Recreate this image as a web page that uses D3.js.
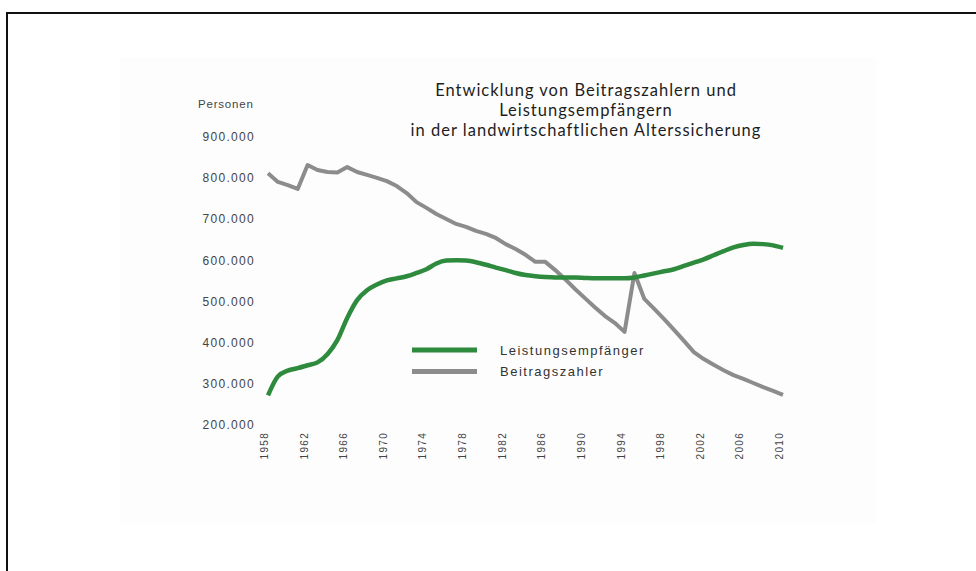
<!DOCTYPE html>
<html>
<head>
<meta charset="utf-8">
<script src="https://cdn.jsdelivr.net/npm/d3@7"></script>
<style>
  body { margin: 0; background: #fff; }
  svg { display: block; }
</style>
</head>
<body>
<div id="chart"></div>
<script>
// values
var years = [1958, 1959, 1960, 1961, 1962, 1963, 1964, 1965, 1966, 1967, 1968, 1969,
  1970, 1971, 1972, 1973, 1974, 1975, 1976, 1977, 1978, 1979, 1980, 1981, 1982, 1983,
  1984, 1985, 1986, 1987, 1988, 1989, 1990, 1991, 1992, 1993, 1994, 1995, 1996, 1997,
  1998, 1999, 2000, 2001, 2002, 2003, 2004, 2005, 2006, 2007, 2008, 2009, 2010];

var leistungsempfaenger = [272000, 318000, 332000, 338000, 345000, 352000, 372000, 406000, 460000, 503000, 527000, 541000,
  551000, 556000, 561000, 569000, 578000, 592000, 599000, 600000, 599000, 595000, 589000, 582000, 576000, 569000,
  564000, 561000, 559000, 558000, 558000, 558000, 557000, 556000, 556000, 556000, 556000, 558000, 563000, 568000,
  573000, 578000, 586000, 594000, 602000, 612000, 622000, 631000, 637000, 640000, 639000, 636000, 630000];

var beitragszahler = [811000, 790000, 782000, 773000, 831000, 819000, 814000, 813000, 826000, 814000, 807000, 800000,
  792000, 780000, 763000, 741000, 727000, 712000, 700000, 688000, 681000, 671000, 664000, 654000, 639000, 627000,
  613000, 596000, 596000, 576000, 554000, 530000, 508000, 486000, 465000, 448000, 426000, 569000, 506000, 482000,
  457000, 431000, 404000, 377000, 360000, 346000, 333000, 321000, 312000, 302000, 292000, 283000, 273000];

var yTicks = [200000, 300000, 400000, 500000, 600000, 700000, 800000, 900000];
var xTicks = [1958, 1962, 1966, 1970, 1974, 1978, 1982, 1986, 1990, 1994, 1998, 2002, 2006, 2010];

var titleLines = ["Entwicklung von Beitragszahlern und", "Leistungsempfängern", "in der landwirtschaftlichen Alterssicherung"];
var seriesNames = ["Leistungsempfänger", "Beitragszahler"];
var seriesColors = ["#2e8a3d", "#8c8c8c"];

var width = 976, height = 571;

var svg = d3.select("#chart").append("svg")
  .attr("width", width)
  .attr("height", height);

// very faint panel behind the chart + frame lines top/left
svg.append("rect")
  .attr("x", 120).attr("y", 58)
  .attr("width", 756).attr("height", 465)
  .style("fill", "#fdfdfd");

svg.append("line")
  .attr("x1", 6).attr("x2", width).attr("y1", 13).attr("y2", 13)
  .style("stroke", "#111").style("stroke-width", 2);
svg.append("line")
  .attr("x1", 7).attr("x2", 7).attr("y1", 12).attr("y2", height)
  .style("stroke", "#111").style("stroke-width", 2);

var de = d3.formatLocale({ decimal: ",", thousands: ".", grouping: [3], currency: ["", " €"] });
var fmt = de.format(",");

var x = d3.scaleLinear().domain([1958, 2010]).range([268, 783]);
var y = d3.scaleLinear().domain([200000, 900000]).range([425, 136.6]);

// y axis: labels only
var yAxis = svg.append("g")
  .attr("transform", "translate(255,0)")
  .call(d3.axisLeft(y).tickValues(yTicks).tickFormat(fmt).tickSize(0).tickPadding(0));
yAxis.select(".domain").remove();
yAxis.selectAll("text")
  .style("font-family", "Liberation Sans, Arial, sans-serif")
  .style("font-size", "12px")
  .style("letter-spacing", "1.3px")
  .style("fill", "#444");

svg.append("text")
  .attr("x", 198).attr("y", 108)
  .style("font-family", "Liberation Sans, Arial, sans-serif")
  .style("font-size", "11.5px")
  .style("letter-spacing", "0.8px")
  .style("fill", "#444")
  .text("Personen");

// x axis: rotated year labels
var xAxis = svg.append("g")
  .attr("transform", "translate(0,425)")
  .call(d3.axisBottom(x).tickValues(xTicks).tickFormat(d3.format("d")).tickSize(0));
xAxis.select(".domain").remove();
xAxis.selectAll("text")
  .attr("transform", "rotate(-90)")
  .attr("x", -7)
  .attr("y", -4)
  .attr("dy", "0.35em")
  .style("text-anchor", "end")
  .style("font-family", "Liberation Sans, Arial, sans-serif")
  .style("font-size", "10px")
  .style("letter-spacing", "1.3px")
  .style("fill", "#444");

// lines
var lineSmooth = d3.line()
  .x(function (d, i) { return x(years[i]); })
  .y(function (d) { return y(d); })
  .curve(d3.curveMonotoneX);

var lineStraight = d3.line()
  .x(function (d, i) { return x(years[i]); })
  .y(function (d) { return y(d); });

svg.append("path")
  .datum(beitragszahler)
  .attr("d", lineStraight)
  .style("fill", "none")
  .style("stroke", seriesColors[1])
  .style("stroke-width", 4)
  .style("stroke-linejoin", "round");

svg.append("path")
  .datum(leistungsempfaenger)
  .attr("d", lineSmooth)
  .style("fill", "none")
  .style("stroke", seriesColors[0])
  .style("stroke-width", 4.5)
  .style("stroke-linejoin", "round");

// legend
var legend = svg.append("g");
seriesNames.forEach(function (name, i) {
  var ly = 350 + i * 21.5;
  legend.append("line")
    .attr("x1", 412).attr("x2", 477)
    .attr("y1", ly).attr("y2", ly)
    .style("stroke", seriesColors[i])
    .style("stroke-width", 5);
  legend.append("text")
    .attr("x", 500).attr("y", ly)
    .attr("dy", "0.35em")
    .style("font-family", "Liberation Sans, Arial, sans-serif")
    .style("font-size", "13px")
    .style("letter-spacing", "1.5px")
    .style("fill", "#333")
    .text(name);
});

// title lines
svg.append("g").selectAll("text")
  .data(titleLines)
  .enter()
  .append("text")
  .attr("x", 586)
  .attr("y", function (d, i) { return 96 + i * 20; })
  .style("text-anchor", "middle")
  .style("font-family", "Lato, sans-serif")
  .style("font-size", "16.5px")
  .style("letter-spacing", "1px")
  .style("fill", "#1e1e1e")
  .text(function (d) { return d; });
</script>
</body>
</html>
